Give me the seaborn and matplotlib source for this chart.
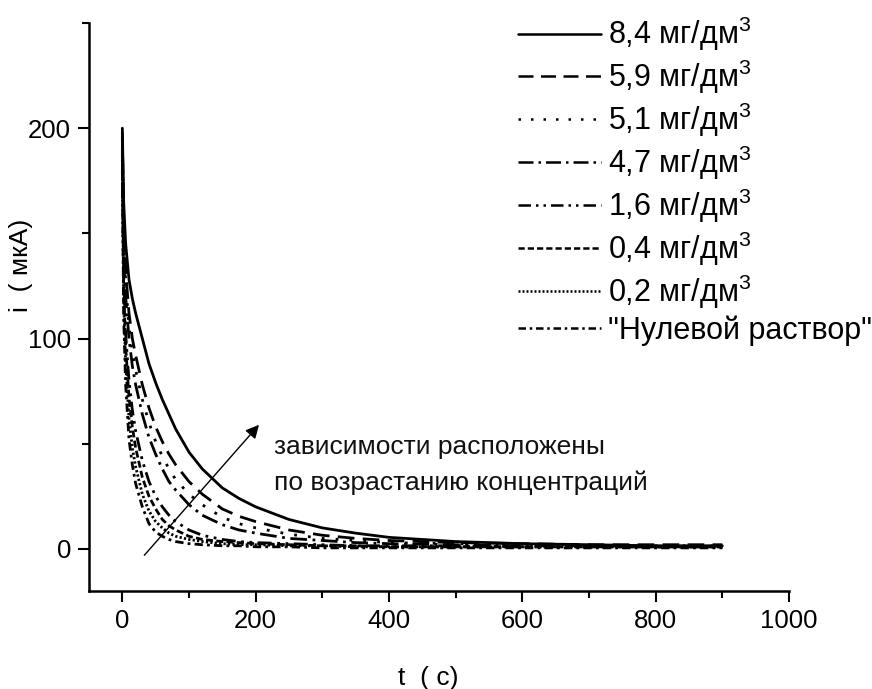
import numpy as np
import pandas as pd
import matplotlib
matplotlib.use("Agg")
import matplotlib.pyplot as plt
import seaborn as sns

# ---- data ----
t = [0, 2, 5, 10, 15, 20, 30, 40, 50, 60, 70, 80, 100, 120, 150, 175, 200,
     250, 300, 350, 400, 500, 600, 700, 800, 900]

labels = ["8,4 мг/дм$^3$", "5,9 мг/дм$^3$", "5,1 мг/дм$^3$", "4,7 мг/дм$^3$",
          "1,6 мг/дм$^3$", "0,4 мг/дм$^3$", "0,2 мг/дм$^3$", '"Нулевой раствор"']

i_84 = [200, 165, 145, 128, 119, 112, 100, 88, 79, 71, 64, 57, 46, 38, 29, 24, 20,
        14, 10, 7.5, 5.5, 3.5, 2.5, 2, 1.5, 1.5]
i_59 = [198, 155, 132, 112, 100, 92, 78, 67, 58, 51, 45, 40, 32, 26, 19, 15.5, 13,
        9, 6.5, 5, 4, 3, 2.5, 2, 2, 2]
i_51 = [196, 150, 126, 106, 94, 85, 71, 60, 51, 44, 38, 33, 26, 21, 15, 12, 10,
        7, 5, 4, 3, 2.5, 2, 1.5, 1.5, 1.5]
i_47 = [195, 145, 120, 100, 87, 78, 64, 53, 45, 38, 32, 28, 21, 16, 11.5, 9, 7.5,
        5, 4, 3, 2.5, 2, 1.5, 1.5, 1, 1]
i_16 = [190, 130, 102, 80, 66, 56, 42, 32, 25, 20, 16, 13, 9, 6.5, 4.5, 3.5, 3,
        2.5, 2, 1.5, 1.5, 1.5, 1, 1, 1, 1]
i_04 = [188, 125, 96, 72, 58, 48, 34, 25, 19, 14, 11, 9, 6, 4.5, 3.5, 3, 2.5,
        2, 1.5, 1.5, 1, 1, 1, 1, 1, 1]
i_02 = [185, 118, 88, 62, 48, 39, 26, 18, 13, 10, 7.5, 6, 4.5, 3.5, 2.5, 2, 2,
        1.5, 1.5, 1, 1, 1, 1, 1, 1, 1]
i_00 = [180, 110, 78, 52, 40, 31, 20, 12, 8, 6, 4.5, 3.5, 2.5, 2, 1.5, 1.5, 1,
        1, 0.5, 0.5, 0.5, 0.5, 0.5, 0.5, 0.5, 0.5]

series = [i_84, i_59, i_51, i_47, i_16, i_04, i_02, i_00]

x_ticks = [0, 200, 400, 600, 800, 1000]
y_ticks = [0, 100, 200]

# ---- long table ----
df = pd.concat([pd.DataFrame({"t": t, "i": v, "conc": lab})
                for lab, v in zip(labels, series)], ignore_index=True)

dash_styles = ["", (6, 3), (1, 4), (6, 2, 1, 2), (5, 2, 1, 2, 1, 2),
               (2.5, 1.2), (0.8, 0.8), (3, 1.5, 1, 1.5)]
dashes = dict(zip(labels, dash_styles))

sns.set_theme(style="ticks")
plt.rcParams["font.family"] = ["Liberation Sans", "DejaVu Sans"]
plt.rcParams["mathtext.fontset"] = "custom"
plt.rcParams["mathtext.rm"] = "Liberation Sans"
plt.rcParams["mathtext.it"] = "Liberation Sans"
plt.rcParams["text.color"] = "black"

fig = plt.figure(figsize=(8.72, 6.89), dpi=100)
ax = fig.add_axes([89 / 872, 1 - 591 / 689, 700 / 872, 568 / 689])

sns.lineplot(data=df, x="t", y="i", style="conc", style_order=labels,
             dashes=dashes, color="black", linewidth=2, estimator=None,
             sort=False, legend="full", ax=ax)

handles, labs = ax.get_legend_handles_labels()
for h in handles:
    h.set_linewidth(1.8)
leg = ax.legend(handles, labs, loc="upper left",
                bbox_to_anchor=(518 / 872, 1 - 15 / 689),
                bbox_transform=fig.transFigure, frameon=False,
                fontsize=22, handlelength=2.7, handletextpad=0.25,
                labelspacing=0.15, borderpad=0, borderaxespad=0,
                labelcolor="black")

ax.set_xlim(-50, 1000)
ax.set_ylim(-20, 250)
ax.set_xticks(x_ticks)
ax.set_yticks(y_ticks)
ax.set_xticks([100, 300, 500, 700, 900], minor=True)
ax.set_yticks([50, 150, 250], minor=True)
ax.tick_params(which="major", direction="out", length=8, width=1.5,
               labelsize=18.5, color="black", labelcolor="black", pad=5)
ax.tick_params(which="minor", direction="out", length=5, width=1.5, color="black")
for s in ["top", "right"]:
    ax.spines[s].set_visible(False)
for s in ["left", "bottom"]:
    ax.spines[s].set_linewidth(1.8)
    ax.spines[s].set_color("black")

ax.set_xlabel("t  ( c)", fontsize=19, color="black")
ax.set_ylabel("i  ( мкА)", fontsize=19, color="black")
ax.xaxis.set_label_coords(0.484, -0.132)
ax.yaxis.set_label_coords(-0.08, 0.574)

ax.annotate("", xy=(205, 59), xytext=(33, -3),
            arrowprops=dict(arrowstyle="-|>", lw=1, color="black",
                            mutation_scale=20, shrinkA=0, shrinkB=0))
ax.text(228, 48.5, "зависимости расположены", fontsize=19, va="center",
        ha="left", color="#111111")
ax.text(228, 31.5, "по возрастанию концентраций", fontsize=19, va="center",
        ha="left", color="#111111")

fig.savefig("out.png", dpi=100)
